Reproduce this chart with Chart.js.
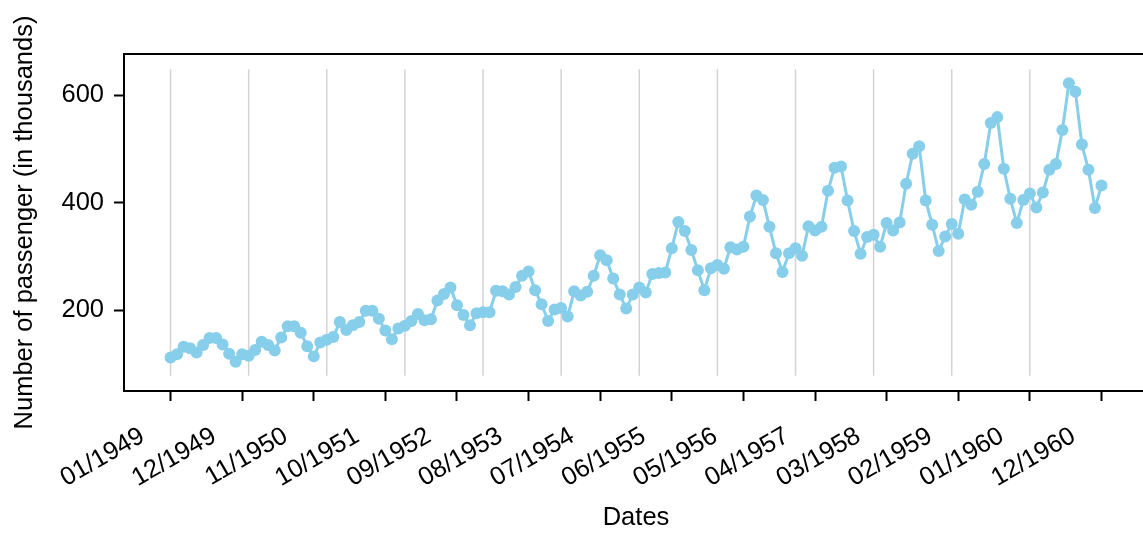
<!DOCTYPE html>
<html>
<head>
<meta charset="utf-8">
<script src="https://cdn.jsdelivr.net/npm/chart.js@4"></script>
<style>
  html, body { margin: 0; padding: 0; overflow: hidden; background: #fff; }
</style>
</head>
<body>
<canvas id="chart" width="1160" height="533"></canvas>
<script>
// monthly air passengers 1949-1960, thousands
let passengers = [
  112, 118, 132, 129, 121, 135, 148, 148, 136, 119, 104, 118,
  115, 126, 141, 135, 125, 149, 170, 170, 158, 133, 114, 140,
  145, 150, 178, 163, 172, 178, 199, 199, 184, 162, 146, 166,
  171, 180, 193, 181, 183, 218, 230, 242, 209, 191, 172, 194,
  196, 196, 236, 235, 229, 243, 264, 272, 237, 211, 180, 201,
  204, 188, 235, 227, 234, 264, 302, 293, 259, 229, 203, 229,
  242, 233, 267, 269, 270, 315, 364, 347, 312, 274, 237, 278,
  284, 277, 317, 313, 318, 374, 413, 405, 355, 306, 271, 306,
  315, 301, 356, 348, 355, 422, 465, 467, 404, 347, 305, 336,
  340, 318, 362, 348, 363, 435, 491, 505, 404, 359, 310, 337,
  360, 342, 406, 396, 420, 472, 548, 559, 463, 407, 362, 405,
  417, 391, 419, 461, 472, 535, 622, 606, 508, 461, 390, 432
];
let tickIndex = [0, 11, 22, 33, 44, 55, 66, 77, 88, 99, 110, 121, 132, 143];
let tickLabels = ["01/1949", "12/1949", "11/1950", "10/1951", "09/1952", "08/1953", "07/1954",
  "06/1955", "05/1956", "04/1957", "03/1958", "02/1959", "01/1960", "12/1960"];
let yTicks = [200, 400, 600];
let yearStarts = [0, 12, 24, 36, 48, 60, 72, 84, 96, 108, 120, 132];

let points = passengers.map((v, i) => ({ x: i, y: v }));

// vertical lines run over the data range plus 5%
let lo = Math.min(...passengers), hi = Math.max(...passengers);
let pad = (hi - lo) * 0.05;
let lineLo = lo - pad, lineHi = hi + pad;

const extras = {
  id: "extras",
  beforeDatasetsDraw(chart) {
    const { ctx, scales: { x, y } } = chart;
    ctx.save();
    ctx.strokeStyle = "#d3d3d3";
    ctx.lineWidth = 1.5;
    yearStarts.forEach(i => {
      const px = x.getPixelForValue(i);
      ctx.beginPath();
      ctx.moveTo(px, y.getPixelForValue(lineLo));
      ctx.lineTo(px, y.getPixelForValue(lineHi));
      ctx.stroke();
    });
    ctx.restore();
  },
  afterDraw(chart) {
    const { ctx, chartArea } = chart;
    ctx.save();
    ctx.strokeStyle = "#000";
    ctx.lineWidth = 2;
    ctx.beginPath();
    ctx.moveTo(chartArea.left - 1, chartArea.top);
    ctx.lineTo(chartArea.right, chartArea.top);
    ctx.stroke();
    ctx.restore();
  }
};

Chart.defaults.font.family = '"Liberation Sans", Arial, sans-serif';
Chart.defaults.font.size = 25.5;
Chart.defaults.color = "#000";

new Chart("chart", {
  type: "line",
  data: {
    datasets: [{
      data: points,
      borderColor: "#87ceeb",
      borderWidth: 3,
      pointRadius: 6,
      pointBorderWidth: 0,
      pointBackgroundColor: "#87ceeb",
      tension: 0
    }]
  },
  options: {
    responsive: false,
    animation: false,
    layout: { padding: { top: 54, right: 12, left: 0, bottom: 0 } },
    plugins: { legend: { display: false }, tooltip: { enabled: false } },
    scales: {
      x: {
        type: "linear",
        min: -7.15,
        max: 150.15,
        afterBuildTicks: s => { s.ticks = tickIndex.map(v => ({ value: v })); },
        afterFit: s => { s.height = 142; },
        ticks: {
          autoSkip: false,
          minRotation: 30,
          maxRotation: 30,
          padding: 20,
          labelOffset: -28,
          callback: v => tickLabels[tickIndex.indexOf(v)]
        },
        grid: { drawOnChartArea: false, drawTicks: true, tickLength: 10, tickWidth: 2, tickColor: "#000" },
        border: { display: true, color: "#000", width: 2 },
        title: { display: true, text: "Dates", padding: { top: 0, bottom: 0 } }
      },
      y: {
        min: 49.6,
        max: 676.4,
        afterBuildTicks: s => { s.ticks = yTicks.map(v => ({ value: v })); },
        afterFit: s => { s.width = 124; },
        ticks: { padding: 10 },
        grid: { drawOnChartArea: false, drawTicks: true, tickLength: 10, tickWidth: 2, tickColor: "#000" },
        border: { display: true, color: "#000", width: 2 },
        title: { display: true, text: "Number of passenger (in thousands)", padding: { top: 10, bottom: 0 } }
      }
    }
  },
  plugins: [extras]
});
</script>
</body>
</html>
